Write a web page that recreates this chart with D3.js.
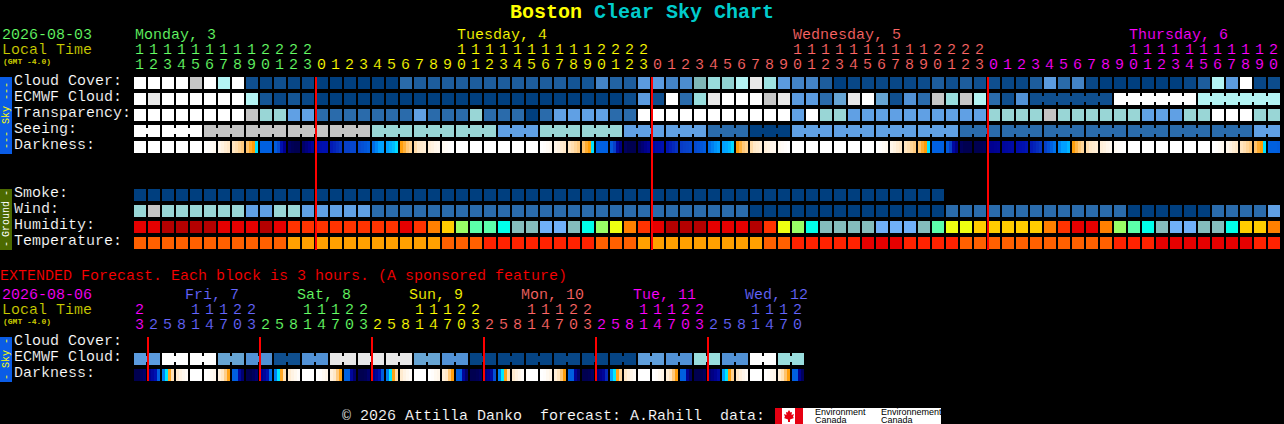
<!DOCTYPE html>
<html><head><meta charset="utf-8"><title>Boston Clear Sky Chart</title>
<script src="https://cdnjs.cloudflare.com/ajax/libs/d3/7.8.5/d3.min.js"></script>
<style>
html,body{margin:0;padding:0;background:#000;overflow:hidden}
svg{display:block}
text{font-family:"Liberation Mono",monospace;font-size:15px}
text.thin{stroke:#000;stroke-width:0.15px;paint-order:fill}
</style></head><body>
<script>
// ---------- DATA ----------
const hourLabels=[11,12,13,14,15,16,17,18,19,20,21,22,23,
 0,1,2,3,4,5,6,7,8,9,10,11,12,13,14,15,16,17,18,19,20,21,22,23,
 0,1,2,3,4,5,6,7,8,9,10,11,12,13,14,15,16,17,18,19,20,21,22,23,
 0,1,2,3,4,5,6,7,8,9,10,11,12,13,14,15,16,17,18,19,20];
const dayNames=[["Monday, 3",0],["Tuesday, 4",23],["Wednesday, 5",47],["Thursday, 6",71]];
const dayStarts=[0,13,37,61];
const extHourLabels=[23,2,5,8,11,14,17,20,23,2,5,8,11,14,17,20,23,2,5,8,11,14,17,20,23,
 2,5,8,11,14,17,20,23,2,5,8,11,14,17,20,23,2,5,8,11,14,17,20];
const extDayNames=["Fri, 7","Sat, 8","Sun, 9","Mon, 10","Tue, 11","Wed, 12"];
const extDayStarts=[0,1,9,17,25,33,41];
const midnights=[13,37,61];
const extMidnights=[1,9,17,25,33,41];

const cloudCover=[100,100,100,100,70,100,60,100,10,5,10,5,5,0,0,0,0,0,0,20,15,
 15,15,15,15,15,15,15,15,15,15,12,12,25,17,15,30,30,25,27,40,50,47,60,80,52,30,25,25,15,0,5,
 5,5,5,5,8,15,10,15,10,10,5,5,15,30,20,25,5,0,0,0,0,0,0,5,15,60,30,100,5,8];
const ecmwfCloud=[100,80,100,100,100,100,100,100,60,12,5,12,5,0,0,0,0,0,0,0,0,
 0,0,0,0,0,0,0,0,0,0,0,0,0,0,8,30,10,100,20,50,80,100,100,100,70,80,30,30,20,33,80,
 100,33,10,28,20,70,50,70,60,20,10,28,10,10,10,10,10,10,100,100,100,100,100,100,60,60,60,60,60,60];
const ecmwfSpans=[[64,69],[70,75],[76,81]];
const transparency=[5,5,5,5,5,5,5,5,4,3,3,2,2,1,1,1,1,1,1,1,2,
 1,1,1,3,1,1,1,0,1,2,2,2,2,1,1,5,5,5,5,5,5,5,5,5,5,5,2,5,3,3,2,
 2,2,2,2,2,2,2,2,2,3,3,3,3,4,3,3,3,3,3,3,2,2,2,3,3,5,5,5,3,3];
const seeingGroups=[[2,5],[3,5],[3,4],[3,4],[3,4],[3,4],[3,3],[3,3],[3,3],[3,2],[3,3],[3,3],[3,2],[3,2],
 [3,1],[3,0],[3,2],[3,2],[3,2],[3,2],[3,1],[3,1],[3,1],[3,1],[3,1],[3,1],[3,1],[2,2]];
const darkness=[
 [10,10,10,10],[10,10,10,10],[10,10,10,10],[10,10,10,10],[10,10,10,10],
 [10,9.8,9.5,9.3],[9,8.7,8.3,8],[7.9,7.7,7.4,7.1],[6.9,6.4,6.05,5.9],[4,4,4,4],
 [3.9,3.3,2,1],[0.3,0.1,0,0],[0.4,0.7,1,1.3],[1.7,1.9,2,2],[2.2,2.4,2.6,2.8],[3,3,3.2,3.2],[3.3,3.5,3.7,3.9],
 [4.2,4.6,5,5],[5,5.2,5.4,5.8],[6.1,6.5,7,7.3],[7.6,8,8.2,8.4],[8.5,8.7,9,9.2],[9.4,9.6,9.8,10],
 [10,10,10,10],[10,10,10,10],[10,10,10,10],[10,10,10,10],[10,10,10,10],[10,10,10,10],
 [10,9.8,9.5,9.3],[9,8.7,8.3,8],[7.9,7.7,7.4,7.1],[6.9,6.4,6.05,5.9],[4,4,4,4],
 [3.8,3,1.5,0.8],[0.2,0,0,0],[0.3,0.6,0.9,1.2],[1.5,1.8,1.9,2],[2.1,2.3,2.5,2.7],[2.9,3,3.1,3.2],[3.3,3.5,3.7,3.9],
 [4.2,4.5,4.8,5],[5,5.1,5.3,5.8],[6.1,6.5,7,7.3],[7.6,8,8.2,8.4],[8.5,8.7,9,9.2],[9.4,9.6,9.8,10],
 [10,10,10,10],[10,10,10,10],[10,10,10,10],[10,10,10,10],[10,10,10,10],[10,10,10,10],
 [10,9.8,9.5,9.3],[9,8.7,8.3,8],[7.9,7.7,7.4,7.1],[6.9,6.4,6.05,5.9],[4,4,4,4],
 [3.8,3,1.5,0.8],[0.2,0,0,0],[0,0,0.1,0.2],[1,1,1.1,1.2],[1.4,1.5,1.6,1.7],[1.8,1.9,2,2.1],[2.2,2.4,2.6,2.8],[3,3.5,4,4.3],
 [4.6,5,5,5.3],[6.1,6.6,7,7.4],[7.7,8,8.2,8.4],[8.5,8.7,9,9.2],[9.4,9.6,9.8,10],
 [10,10,10,10],[10,10,10,10],[10,10,10,10],[10,10,10,10],[10,10,10,10],[10,10,10,10],
 [10,9.8,9.5,9.3],[9,8.7,8.3,8],[7.9,7.7,7.4,7.1],[6.9,6.4,6.05,5.9],[4,4,4,3.9]];
const smoke=Array.from({length:58},()=>0);
const wind=[3,4,3,3,3,3,3,3,2,2,3,3,2,2,2,2,2,1,1,1,1,
 1,1,1,1,1,1,1,1,1,1,1,1,1,1,1,1,1,1,1,1,1,1,1,0,0,0,0,0,0,0,0,
 0,0,0,0,0,0,1,1,1,1,1,1,1,1,1,1,1,1,1,0,0,0,0,0,0,1,1,1,1,2];
const humidity=[9,9,10,10,10,10,9,9,9,10,9,8,8,8,8,8,8,8,8,9,8,
 7,6,4,3,3,2,1,1,0,0,1,2,4,5,7,8,9,10,10,10,9,9,9,10,8,5,4,2,1,1,1,
 1,0,0,0,1,3,5,5,6,6,6,6,6,7,8,9,9,7,4,3,2,1,0,0,1,1,2,6,6,7];
const temperature=[2,2,2,2,2,2,2,2,2,2,2,3,3,3,3,3,3,3,3,3,3,
 3,2,2,2,1,1,1,1,1,1,1,1,2,2,2,3,3,3,3,3,3,3,3,3,2,2,1,1,1,1,1,
 0,0,0,1,1,1,1,2,2,2,2,2,2,2,2,2,2,2,1,1,1,0,0,0,0,0,0,0,1,1];
const extEcmwfPairs=[30,100,100,33,28,10,28,80,80,80,33,28,3,3,3,5,3,3,31,28,50,28,100,50];
const extDarkness=[
 [0,0,0.2,0.4],[1,1.5,2,4],[4.5,6,6.3,7.8],[8.3,8.8,9.2,9.6],[10,10,10,10],[10,9.8,9.4,9],[8.6,8,7.2,6.2],[4,4,1.5,0.5],
 [0,0,0.2,0.5],[1,1.4,2,4.2],[4.5,6,6.3,7.8],[8.3,8.8,9.2,9.7],[10,10,10,10],[10,9.8,9.4,9],[8.6,8,7.1,6.2],[4,4,1.4,0.5],
 [0,0,0.1,0.4],[0.9,1.3,2,3.9],[4.5,6,6.2,7.6],[8.2,8.8,9.2,9.6],[10,10,10,10],[10,9.8,9.3,9],[8.5,8,7,6.1],[4,4,1.3,0.4],
 [0,0,0.1,0.3],[0.7,1,1.5,3.5],[4.5,6,6.2,7.6],[8.2,8.7,9.1,9.6],[10,10,10,10],[10,9.8,9.3,8.9],[8.5,7.9,7,6.1],[4,4,1.2,0.4],
 [0,0,0.1,0.3],[0.6,0.9,1.3,2.5],[5,6,6.2,7.4],[8,8.6,9,9.5],[10,10,10,10],[10,9.7,9.3,8.9],[8.4,7.9,7,6.1],[4,4,1.1,0.3],
 [0,0,0,0.2],[0.5,0.8,1.1,1.6],[5,6,6.1,7.3],[8,8.6,9,9.5],[10,10,10,10],[10,9.7,9.2,8.9],[8.4,7.8,6.9,6.1],[4,4,1,0.2]];
const rowLabels=[["Cloud Cover:",85],["ECMWF Cloud:",101],["Transparency:",117],["Seeing:",133],["Darkness:",149],
 ["Smoke:",197],["Wind:",213],["Humidity:",229],["Temperature:",245],
 ["Cloud Cover:",345],["ECMWF Cloud:",361],["Darkness:",377]];

// ---------- SCALES ----------
const x=d3.scaleLinear().domain([0,1]).range([134,148]);
const cellW=12, cellH=12;
const cloudColor=d3.scaleLinear().domain([0,10,20,30,40,50,60,70,80,90,100])
 .range(["#003f7f","#0f4f8f","#2a6bab","#5b9bdf","#7fb8b8","#99dddd","#b4f4f4","#c6c6c6","#e8e8e8","#f6f6f6","#ffffff"]);
const skyColor=d3.scaleOrdinal().domain([0,1,2,3,4,5]).range(["#003f7f","#2a6bab","#60a0e4","#99d6d6","#c4c4c4","#ffffff"]);
const humColor=d3.scaleOrdinal().domain(d3.range(11)).range(["#70b0f8","#84bdbd","#00ffea","#5cffaa","#99ff66","#eeff11","#ffcc00","#ff8000","#ff3300","#e60000","#b40000"]);
const tempColor=d3.scaleOrdinal().domain([0,1,2,3]).range(["#e60000","#ff2200","#ff6000","#ffa000"]);
const darkColor=d3.scaleLinear().domain([0,1,2,3,4,5,6,6.01,7,8,9,10])
 .range(["#000050","#000090","#0010b0","#0840c8","#0060e0","#00a0ff","#00e8ff","#ff9a00","#ffc878","#ffe8c8","#fff6ea","#ffffff"]);
const dayColors=["#66ff66","#ffff00","#ff6666","#ff00ff","#6666ff"];
const yel="#cccc00";

// ---------- DRAW ----------
const svg=d3.select("body").append("svg").attr("width",1284).attr("height",424);
svg.append("rect").attr("width",1284).attr("height",424).attr("fill","#000");

function txt(s,tx,ty,fill,size,extra){
 const t=svg.append("text").attr("class","thin").attr("x",tx).attr("y",ty).attr("fill",fill).style("white-space","pre").text(s);
 if(size)t.style("font-size",size+"px");
 if(extra)extra(t);
 return t;
}
function row(vals,y,color){
 svg.append("g").selectAll("rect").data(vals).join("rect")
  .attr("x",(d,i)=>x(i)).attr("y",y).attr("width",cellW).attr("height",cellH).attr("fill",d=>color(d));
}
function joint(col,y,fill){
 svg.append("rect").attr("x",x(col)+cellW).attr("y",y+3).attr("width",x(1)-x(0)-cellW).attr("height",6).attr("fill",fill);
}
function gradRow(vals,y){
 const g=svg.append("g");
 vals.forEach((samples,i)=>{
  const sub=d3.scaleBand().domain(d3.range(samples.length)).range([x(i),x(i)+cellW]);
  g.selectAll(null).data(samples).join("rect")
   .attr("x",(d,k)=>sub(k)).attr("y",y).attr("width",sub.bandwidth()).attr("height",cellH).attr("fill",d=>darkColor(d));
 });
}

// Title
const title=txt("",510,18,"#ffff00",20,t=>t.attr("class",null).style("font-weight","bold"));
title.append("tspan").attr("fill","#ffff00").text("Boston");
title.append("tspan").attr("fill","#00cccc").text(" Clear Sky Chart");

// Header left
txt("2026-08-03",2,39,dayColors[0]);
txt("Local Time",2,54,yel);
txt("(GMT -4.0)",3,64,yel,8,t=>t.attr("class",null).style("font-weight","bold"));

// Day names
dayNames.forEach((d,i)=>txt(d[0],x(d[1])+1,39,dayColors[i]));

// Hour digits
function hourDigits(labels,starts,colorIdx,yT,yO){
 const colourOf=i=>{let k=0;starts.forEach((s,j)=>{if(i>=s)k=j;});return dayColors[colorIdx[k]];};
 labels.forEach((h,i)=>{
  const cx=x(i)+5.5;
  if(h>=10)txt(String(Math.floor(h/10)),cx,yT,colourOf(i),null,t=>t.attr("text-anchor","middle"));
  txt(String(h%10),cx,yO,colourOf(i),null,t=>t.attr("text-anchor","middle"));
 });
}
hourDigits(hourLabels,dayStarts,[0,1,2,3],54,69);

// Side bars
svg.append("rect").attr("x",0).attr("y",77).attr("width",12).attr("height",77).attr("fill","#0a5ce6");
svg.append("rect").attr("x",0).attr("y",189).attr("width",12).attr("height",61).attr("fill","#4c6a00");
svg.append("rect").attr("x",0).attr("y",337).attr("width",12).attr("height",45).attr("fill","#0a5ce6");
function vtxt(s,cy,fill){
 svg.append("text").attr("transform",`translate(9,${cy}) rotate(-90)`).attr("text-anchor","middle")
  .attr("fill",fill).style("font-size","10px").text(s);
}
vtxt("---",91,"#ffff00");vtxt("Sky",115,"#ffff00");vtxt("---",140,"#ffff00");
vtxt("-",193,"#ffffff");vtxt("Ground",219,"#ffffff");vtxt("-",244,"#ffffff");
vtxt("-",341,"#ffff00");vtxt("Sky",359,"#ffff00");vtxt("-",377,"#ffff00");

// Row labels
rowLabels.forEach(r=>txt(r[0],14,r[1],"#ffffff"));

// Sky rows
row(cloudCover,77,cloudColor);
row(ecmwfCloud,93,cloudColor);
ecmwfSpans.forEach(([a,b])=>{for(let c=a;c<b;c++)joint(c,93,cloudColor(ecmwfCloud[c]));});
row(transparency,109,skyColor);
let c0=0;
seeingGroups.forEach(([n,v])=>{
 for(let c=c0;c<c0+n;c++){
  svg.append("rect").attr("x",x(c)).attr("y",125).attr("width",cellW).attr("height",cellH).attr("fill",skyColor(v));
  if(c<c0+n-1)joint(c,125,skyColor(v));
 }
 c0+=n;
});
gradRow(darkness,141);

// Ground rows
row(smoke,189,()=>"#003f7f");
row(wind,205,skyColor);
row(humidity,221,humColor);
row(temperature,237,tempColor);

// Midnight lines (top)
midnights.forEach(c=>svg.append("rect").attr("x",x(c)-1).attr("y",77).attr("width",2).attr("height",173).attr("fill","#ff0000"));

// Extended
txt("EXTENDED Forecast. Each block is 3 hours. (A sponsored feature)",0,280,"#ff0000");
txt("2026-08-06",2,299,dayColors[3]);
txt("Local Time",2,314,yel);
txt("(GMT -4.0)",3,324,yel,8,t=>t.attr("class",null).style("font-weight","bold"));
const extColorIdx=[3,4,0,1,2,3,4];
extDayNames.forEach((d,i)=>txt(d,x(extMidnights[i]+3)-5,299,dayColors[extColorIdx[i+1]]));
hourDigits(extHourLabels,extDayStarts,extColorIdx,314,329);

extEcmwfPairs.forEach((v,i)=>{
 const c=i*2,f=cloudColor(v);
 svg.append("rect").attr("x",x(c)).attr("y",353).attr("width",cellW).attr("height",cellH).attr("fill",f);
 svg.append("rect").attr("x",x(c+1)).attr("y",353).attr("width",cellW).attr("height",cellH).attr("fill",f);
 joint(c,353,f);
});
gradRow(extDarkness,369);
extMidnights.forEach(c=>svg.append("rect").attr("x",x(c)-1).attr("y",337).attr("width",2).attr("height",44).attr("fill","#ff0000"));

// Footer
txt("© 2026 Attilla Danko  forecast: A.Rahill  data:",342,420,"#ffffff");
const logoX=775;
svg.append("clipPath").attr("id","lg").append("rect").attr("x",logoX).attr("y",408).attr("width",166).attr("height",16);
const lg=svg.append("g").attr("clip-path","url(#lg)");
lg.append("rect").attr("x",logoX).attr("y",408).attr("width",166).attr("height",16).attr("fill","#fff");
lg.append("rect").attr("x",logoX).attr("y",408).attr("width",7).attr("height",16).attr("fill","#e60012");
lg.append("rect").attr("x",logoX+20).attr("y",408).attr("width",8).attr("height",16).attr("fill","#e60012");
lg.append("path").attr("transform",`translate(${logoX+14},416)`).attr("fill","#e60012")
 .attr("d","M0,-6L1.5,-3.5L3,-4L2.5,-1L5,-2L4,1L5,2L1,3.5L1,6L-1,6L-1,3.5L-5,2L-4,1L-5,-2L-2.5,-1L-3,-4L-1.5,-3.5Z");
[[815,"Environment","Canada"],[881,"Environnement","Canada"]].forEach(([tx,a,b])=>{
 [[a,415],[b,423]].forEach(([s,ty])=>{
  lg.append("text").attr("x",tx).attr("y",ty).attr("fill","#000")
   .style("font-family","'Liberation Sans',sans-serif").style("font-size","9px").text(s);
 });
});
</script>
</body></html>
